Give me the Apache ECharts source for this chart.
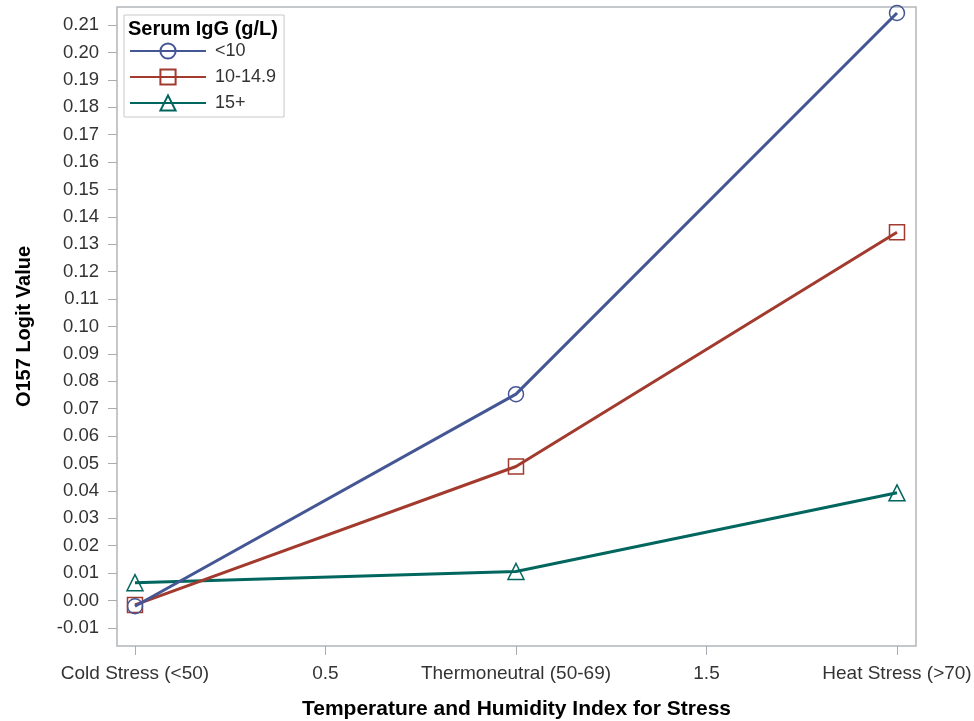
<!DOCTYPE html>
<html>
<head>
<meta charset="utf-8">
<script src="https://cdn.jsdelivr.net/npm/echarts@6/dist/echarts.min.js"></script>
<style>
html,body{margin:0;padding:0;background:#fff;}
#chart{width:974px;height:721px;}
</style>
</head>
<body>
<div id="chart"></div>
<script>
// ---- data ----
const xValues = [0, 1, 2];
const xTickValues = [0, 0.5, 1, 1.5, 2];
const xTickLabels = ['Cold Stress (<50)', '0.5', 'Thermoneutral (50-69)', '1.5', 'Heat Stress (>70)'];
const seriesNames = ['<10', '10-14.9', '15+'];
const igLow = [-0.0021, 0.0753, 0.2144];
const igMid = [-0.0016, 0.0489, 0.1344];
const igHigh = [0.0065, 0.0106, 0.0393];
const yTickValues = [-0.01, 0.00, 0.01, 0.02, 0.03, 0.04, 0.05, 0.06, 0.07, 0.08, 0.09, 0.10,
  0.11, 0.12, 0.13, 0.14, 0.15, 0.16, 0.17, 0.18, 0.19, 0.20, 0.21];
const xRange = [-0.0472, 2.0499];
const yRange = [-0.0166, 0.2166];
const legendTitle = 'Serum IgG (g/L)';
const xTitle = 'Temperature and Humidity Index for Stress';
const yTitle = 'O157 Logit Value';

const colors = ['#445694', '#A23A2E', '#01665E'];
const symbols = ['circle', 'rect', 'triangle'];
const allValues = [igLow, igMid, igHigh];
const FONT = "'Liberation Sans', Arial, sans-serif";

const chart = echarts.init(document.getElementById('chart'), null, {renderer: 'canvas'});

const series = allValues.map((vals, i) => ({
  name: seriesNames[i],
  type: 'line',
  clip: false,
  data: xValues.map((x, k) => [x, vals[k]]),
  symbol: symbols[i],
  symbolSize: i === 2 ? 16 : 15,
  showSymbol: true,
  lineStyle: {color: colors[i], width: 3},
  itemStyle: {color: 'rgba(0,0,0,0)', borderColor: colors[i], borderWidth: 1.5},
  emphasis: {disabled: true},
  z: 3 - i
}));

chart.setOption({
  animation: false,
  backgroundColor: '#fff',
  grid: {left: 117, right: 58, top: 7, bottom: 75, containLabel: false, outerBoundsMode: 'none',
    show: true, borderColor: '#b3b7bb', borderWidth: 1.5, backgroundColor: 'transparent'},
  xAxis: {
    type: 'value',
    position: 'bottom',
    min: xRange[0], max: xRange[1],
    axisLine: {show: false, onZero: false},
    axisTick: {show: true, length: 9, customValues: xTickValues, lineStyle: {color: '#a9adb1', width: 1}},
    splitLine: {show: false},
    axisLabel: {
      show: true, margin: 18, fontSize: 19, fontFamily: FONT, color: '#333',
      customValues: xTickValues,
      formatter: v => {
        const idx = xTickValues.findIndex(t => Math.abs(t - v) < 1e-9);
        return idx >= 0 ? xTickLabels[idx] : '';
      }
    },
    name: xTitle, nameLocation: 'middle', nameGap: 53,
    nameTextStyle: {fontSize: 21, fontWeight: 'bold', fontFamily: FONT, color: '#000'}
  },
  yAxis: {
    type: 'value',
    position: 'left',
    min: yRange[0], max: yRange[1],
    axisLine: {show: false, onZero: false},
    axisTick: {show: true, length: 9, customValues: yTickValues, lineStyle: {color: '#a9adb1', width: 1}},
    splitLine: {show: false},
    axisLabel: {
      margin: 18, fontSize: 18.5, fontFamily: FONT, color: '#333',
      customValues: yTickValues,
      formatter: v => (Math.abs(v) < 1e-9 ? 0 : v).toFixed(2)
    },
    name: yTitle, nameLocation: 'middle', nameGap: 83, nameRotate: 90,
    nameTextStyle: {fontSize: 20, fontWeight: 'bold', fontFamily: FONT, color: '#000'}
  },
  legend: {
    orient: 'vertical',
    left: 124, top: 15,
    padding: [27, 8, 5, 5],
    itemWidth: 76, itemHeight: 19, itemGap: 8,
    borderColor: '#c9c9c9', borderWidth: 1,
    backgroundColor: '#fff',
    textStyle: {fontSize: 18, fontFamily: FONT, color: '#333', padding: [0, 0, 0, 4]},
    data: seriesNames,
    selectedMode: false
  },
  graphic: [
    {
      type: 'text', left: 128, top: 19, z: 100,
      style: {text: legendTitle, font: "bold 20px 'Liberation Sans', Arial, sans-serif", fill: '#000'}
    }
  ],
  series: series
});
</script>
</body>
</html>
